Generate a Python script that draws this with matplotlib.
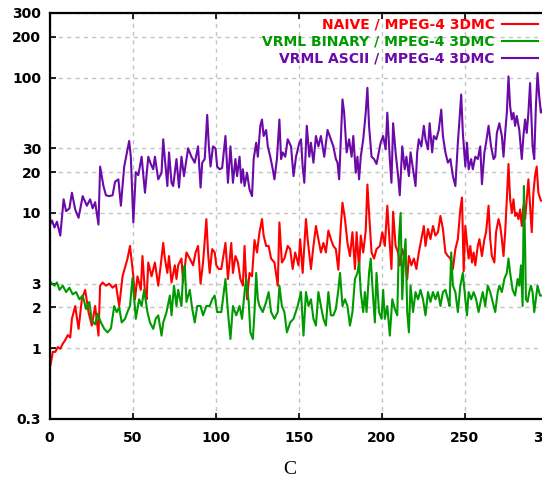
import matplotlib
matplotlib.use("Agg")
import matplotlib.pyplot as plt

# values (x = frame index, y = size ratio)
naive_x = [0, 1, 2, 3.5, 5, 6.5, 8, 9.5, 11, 12.5, 13.5, 15.5, 17.5, 19.5, 21.5, 23.5, 25.5, 27.5, 29.5, 30.5,
           32, 34, 36, 38, 40, 42, 44, 47, 48.5, 50.5, 51.5, 53, 55, 56, 57.5, 58.5, 59.5, 61.5, 63.5, 65.5,
           67, 68.5, 69.5, 71, 72, 73.5, 75.5, 76.5, 77.5, 79.5, 80.5, 82.5, 84.5, 86.5, 88, 89.5, 91, 92.5, 94.5, 95.5,
           96.5, 98, 99.5, 100.5, 102, 103.5, 106, 107.5, 109.5, 110.5, 112, 113.5, 115, 116.5, 117.5, 119, 120.5, 122, 123.5, 125,
           126.5, 128, 129, 130.5, 132, 133.5, 135.5, 137.5, 138.5, 140, 141.5, 143.5, 145, 146.5, 148, 150, 151, 152.5, 154.5, 155.5,
           157.5, 159, 160.5, 162, 163.5, 165, 166.5, 168, 169.5, 171, 172.5, 174, 175.5, 176.5, 178, 179.5, 181, 182.5, 184, 185,
           186.5, 187.5, 189, 190.5, 191.5, 192.5, 194, 195.5, 197, 199, 200.5, 202, 203.5, 204.5, 206, 207, 208.5, 210, 211, 212.5,
           214, 215.5, 216.5, 218, 219.5, 221, 222.5, 224, 225.5, 226.5, 228, 229.5, 231, 232.5, 234, 235.5, 237, 238.5, 240, 241.5,
           243, 244.5, 246, 247.5, 248.5, 249.5, 250.5, 251.5, 252.5, 253.5, 254.5, 255.5, 256.5, 258, 259, 260.5, 262, 263, 264.5, 265.5,
           266.5, 268, 269, 270.5, 271.5, 272.5, 273.5, 274.5, 275.5, 276.5, 277.5, 278.5, 279.5, 280.5, 281.5, 282.5, 283.5, 284.5, 285.5, 286.5,
           287.5, 288.5, 289.5, 290.5, 291.5, 292.5, 293.5, 294.5, 296, 297]
naive_y = [0.70, 0.80, 0.94, 0.94, 1.02, 0.99, 1.08, 1.15, 1.25, 1.2, 1.65, 2.05, 1.39, 2.3, 2.7, 1.85, 1.47, 2.05, 1.24, 2.9,
           3.06, 2.9, 3.0, 2.8, 2.95, 2.05, 3.4, 4.6, 5.7, 3.4, 2.3, 3.4, 2.7, 4.8, 2.6, 2.3, 4.3, 3.4, 4.3, 2.9,
           4.1, 6.0, 4.6, 3.6, 4.8, 3.06, 4.1, 3.25, 4.1, 4.6, 3.06, 5.1, 4.6, 4.1, 5.1, 5.7, 3.0, 4.3, 9.0, 5.1,
           3.6, 5.4, 5.1, 4.1, 3.85, 3.85, 6.0, 3.25, 6.0, 3.6, 4.8, 4.3, 3.25, 2.9, 5.7, 2.3, 3.6, 3.4, 6.3, 5.1,
           7.2, 9.0, 6.8, 5.7, 5.7, 4.6, 4.3, 2.9, 8.5, 4.3, 4.6, 5.7, 5.4, 3.85, 5.1, 4.1, 6.4, 3.6, 9.0, 6.4,
           3.85, 5.7, 8.0, 6.4, 5.1, 6.0, 5.1, 7.4, 6.4, 5.7, 5.4, 3.8, 8.0, 11.9, 9.0, 6.0, 4.8, 7.2, 3.85, 7.2,
           3.85, 6.8, 5.1, 7.4, 16.2, 10.0, 5.1, 4.6, 5.4, 5.7, 7.2, 5.7, 11.3, 7.2, 3.85, 10.2, 5.7, 5.1, 4.1, 5.4,
           4.6, 3.25, 4.8, 4.1, 4.6, 3.85, 5.1, 6.4, 8.0, 5.7, 7.6, 6.4, 8.0, 6.8, 7.2, 9.5, 7.6, 5.1, 4.8, 4.6,
           3.85, 5.4, 6.4, 10.7, 13.0, 3.7, 8.0, 6.0, 4.6, 5.7, 4.3, 5.1, 4.1, 5.7, 6.4, 4.8, 6.4, 7.2, 11.3, 6.4,
           4.8, 4.3, 7.2, 9.0, 8.0, 6.4, 4.8, 7.2, 12.6, 23, 12.6, 10.0, 12.6, 9.5, 10.0, 9.0, 10.6, 8.0, 11.3, 9.0,
           12.6, 17.7, 11.3, 7.2, 14.1, 18.7, 22, 14.1, 12.3, 12.3]

binary_x = [0, 1.5, 3, 4.5, 6, 8, 10, 12, 14, 16, 18, 20, 22, 24, 25.5, 27.5, 29, 31, 33, 35,
            37, 39, 40.5, 42, 43.5, 45.5, 47.3, 48.5, 50, 52, 54, 55.5, 57, 59, 60.5, 62.5, 64, 65.5, 67.5, 68.5,
            70.5, 72.5, 73.5, 75, 76.5, 77.5, 79.5, 80.5, 81.5, 82.5, 84.5, 86, 87.5, 89, 91, 92.5, 94.5, 96.5, 98, 99.5,
            101, 103.5, 105, 106, 107.5, 109, 110.5, 112.5, 114.5, 116, 117.5, 118.5, 120, 121, 122.5, 123.5, 124.5, 125.5, 126.5, 128.5,
            130.5, 132, 133.5, 135.5, 137.5, 138.5, 140, 141.5, 143, 145, 147, 149.5, 151.5, 153, 154.5, 156, 157.5, 159, 160.5, 162,
            163.5, 165, 166.5, 168, 169.5, 171, 172.5, 174, 175, 176.5, 178, 179.5, 181, 182.5, 184, 185.5, 186.5, 187.5, 189, 190,
            191, 192.5, 193.5, 194.5, 196, 197, 198.5, 200, 201, 202, 203.5, 205, 206.5, 208, 209.5, 210.5, 211.5, 212.5, 213.5, 214.5,
            215.5, 216.5, 217.5, 219, 220.5, 222, 223.5, 225, 226.5, 228, 229.5, 231, 232.5, 234, 235.5, 237, 238.5, 240, 241, 242,
            243, 244.5, 246, 247.5, 249, 250.5, 251.5, 252.5, 254, 255.5, 257, 258.5, 260, 261, 262.5, 264, 265.5, 267, 268.5, 270,
            271, 272.5, 274, 275.5, 276.5, 277.5, 279, 280.5, 282, 283, 284, 285, 285.8, 286.5, 287, 288, 289, 290, 291, 292,
            293, 294, 295.5, 297]
binary_y = [3.16, 3.0, 2.9, 3.06, 2.7, 2.9, 2.6, 2.8, 2.5, 2.6, 2.3, 2.45, 1.95, 2.2, 1.6, 1.5, 1.8, 1.55, 1.39, 1.31,
            1.4, 2.05, 1.85, 2.0, 1.55, 1.65, 1.9, 2.05, 3.3, 1.65, 2.3, 2.05, 2.7, 1.85, 1.55, 1.39, 1.65, 1.75, 1.24, 1.55,
            1.85, 2.45, 1.75, 2.9, 2.05, 2.7, 2.05, 3.6, 4.1, 2.2, 2.7, 1.95, 1.55, 2.05, 2.05, 1.75, 2.05, 2.05, 2.3, 2.45,
            1.85, 1.85, 2.6, 3.25, 1.85, 1.17, 2.05, 1.75, 2.05, 1.65, 2.6, 3.25, 2.2, 1.31, 1.17, 1.85, 3.6, 2.3, 2.05, 1.85,
            2.2, 2.6, 1.85, 1.65, 1.85, 2.9, 2.05, 1.85, 1.31, 1.55, 1.65, 2.05, 2.6, 1.24, 2.6, 2.05, 2.3, 1.65, 1.47, 2.6,
            2.05, 1.65, 1.47, 2.6, 1.75, 1.75, 1.95, 2.7, 3.6, 2.05, 2.3, 2.05, 1.47, 1.85, 3.25, 3.6, 4.3, 2.6, 1.85, 2.6,
            1.85, 3.6, 4.6, 2.9, 1.55, 3.6, 1.85, 1.65, 2.7, 1.65, 2.05, 1.24, 2.3, 1.95, 1.75, 6.4, 10.0, 2.3, 4.6, 6.4,
            1.85, 1.31, 2.9, 1.85, 2.6, 2.3, 2.7, 2.3, 1.75, 2.6, 2.2, 2.6, 2.3, 2.6, 2.05, 2.6, 2.7, 2.3, 2.05, 5.1,
            2.9, 2.6, 1.85, 2.9, 3.6, 2.3, 1.75, 2.6, 2.3, 2.6, 2.3, 1.85, 2.3, 2.6, 2.05, 2.9, 2.6, 2.2, 1.85, 2.6,
            2.9, 2.6, 3.25, 3.6, 4.6, 3.6, 2.7, 2.45, 3.25, 2.9, 4.1, 2.05, 15.8, 5.7, 2.3, 2.2, 2.6, 2.9, 2.6, 1.85,
            2.3, 2.9, 2.45, 2.45]

ascii_x = [0, 1.5, 3, 4.5, 6.5, 8.5, 10, 12, 13.5, 15.5, 17.5, 20, 22.5, 24.5, 26, 27.5, 29.5, 30.5, 32.5, 34,
           36, 38, 39.5, 41.5, 43, 45, 48, 49, 50.5, 52, 53.5, 55.5, 57.5, 59.5, 61, 62.5, 63.5, 65.5, 67.5, 68.5,
           69.5, 71, 72, 73.5, 74.5, 76.5, 78, 79.5, 81, 83.5, 85.5, 87.5, 89.5, 91, 92, 93.5, 95, 96, 97, 98.5,
           100, 101, 102.5, 104, 106, 107.5, 109, 110.5, 112, 113, 114.5, 115.5, 116.5, 117.5, 119, 120.5, 122, 123, 124.5, 125.5,
           127, 128, 129, 130.5, 131.5, 133, 134.5, 135.5, 137, 138.5, 139.5, 140.5, 142, 143.5, 145.5, 147, 148.5, 150.5, 151.5, 152.5,
           153.5, 155, 156.5, 157.5, 159, 160.5, 162, 163.5, 165.5, 167.5, 169.5, 171, 172.5, 173.5, 174.5, 175.5, 176.5, 177.5, 179, 180.5,
           182, 183, 184.5, 185.5, 186.5, 187.5, 189, 190.5, 191.5, 192.5, 194, 195.5, 197, 199.5, 201, 202.5, 203.5, 205, 206, 207,
           208.5, 210, 211, 212.5, 214, 215, 216.5, 217.5, 219, 220.5, 221.5, 222.5, 224, 225.5, 226.5, 228, 229, 230.5, 231.5, 233,
           234.5, 236, 237, 238.5, 240, 241.5, 243, 244.5, 246, 247, 248, 249, 250.5, 251.5, 252.5, 254, 255, 256.5, 258, 259.5,
           260.5, 262, 263, 264.5, 266, 267.5, 268.5, 269.5, 271, 272.5, 273.5, 274.5, 275.5, 276.5, 277.5, 278.5, 279.5, 280.5, 281.5, 283,
           284.5, 285.5, 286.5, 287.5, 288.5, 289.5, 290.5, 291, 292, 293, 294, 295, 296, 297]
ascii_y = [8.0, 8.8, 7.8, 8.6, 6.8, 12.6, 10.3, 10.8, 14.1, 10.6, 9.2, 13.3, 11.3, 12.6, 10.8, 12, 8.2, 22, 15.8, 13.5,
           13.3, 13.5, 17, 17.7, 11.3, 22, 34, 26, 8.5, 20, 19, 26, 14.1, 26, 23, 21, 26, 17.7, 19.8, 35,
           25, 15.8, 28, 16.7, 15.8, 25, 15.4, 26, 18.7, 30, 26, 23.5, 31, 15.4, 23.5, 25, 53, 31, 22, 31,
           30, 22, 21, 21.5, 37, 16.7, 31, 16.7, 25, 18.7, 26, 16.7, 21, 15.8, 19.8, 14.9, 13.3, 25, 33, 26,
           44, 49, 37, 41, 31, 26, 21, 17.7, 25, 49, 25, 28, 26, 35, 31, 18.7, 26, 33, 35, 22,
           16.7, 44, 26, 33, 23.5, 37, 31, 37, 26, 41, 35, 31, 25, 23.5, 17.7, 35, 69, 55, 28, 35,
           26, 37, 19.8, 26, 17.7, 26, 35, 55, 84, 44, 26, 25, 23, 33, 37, 29.5, 55, 25, 16.7, 46,
           28, 18.7, 13.5, 31, 21, 26, 18.7, 28, 21, 15.8, 28, 35, 31, 44, 35, 29.5, 46, 28, 37, 35,
           41, 58, 37, 28, 23.5, 25, 18.7, 15.8, 33, 49, 75, 39, 22, 33, 21, 25, 21, 26, 25, 31,
           16.3, 28, 33, 44, 31, 25, 26, 39, 46, 37, 26, 39, 55, 102, 61, 49, 55, 44, 52, 41,
           25, 37, 49, 39, 55, 91, 44, 31, 25, 61, 108, 73, 55, 58]

labels = ["NAIVE / MPEG-4 3DMC", "VRML BINARY / MPEG-4 3DMC", "VRML ASCII / MPEG-4 3DMC"]
colors = ["#ff0000", "#009a00", "#6a0aa8"]

yticks = [0.3, 1, 2, 3, 10, 20, 30, 100, 200, 300]
ytick_labels = ["0.3", "1", "2", "3", "10", "20", "30", "100", "200", "300"]
xticks = [0, 50, 100, 150, 200, 250, 300]

fig = plt.figure(figsize=(5.42, 4.80), dpi=100)
ax = fig.add_axes([49.5 / 542, 61 / 480, 498 / 542, 406 / 480])

ax.plot(naive_x, naive_y, color=colors[0], lw=1.5, label=labels[0])
ax.plot(binary_x, binary_y, color=colors[1], lw=1.5, label=labels[1])
ax.plot(ascii_x, ascii_y, color=colors[2], lw=1.5, label=labels[2])

ax.set_yscale("log")
ax.set_xlim(0, 300)
ax.set_ylim(0.3, 300)
ax.set_yticks(yticks)
ax.set_yticklabels(ytick_labels)
ax.yaxis.set_minor_locator(matplotlib.ticker.NullLocator())
ax.set_xticks(xticks)

ax.grid(True, color="#c4c4c4", linestyle=(0, (3, 3)), lw=1)
ax.set_axisbelow(True)
for s in ax.spines.values():
    s.set_linewidth(1.6)
ax.tick_params(direction="in", length=4, width=1.2, top=True, right=False)
ax.tick_params(axis="y", pad=6)
ax.tick_params(axis="x", pad=9)
for t in ax.get_xticklabels() + ax.get_yticklabels():
    t.set_fontweight("bold")
    t.set_fontsize(10)

ax.legend(loc="upper right", bbox_to_anchor=(538 / 542, 1 - 18 / 480), bbox_transform=fig.transFigure,
          frameon=False, markerfirst=False, handlelength=2.6, handletextpad=0.5, labelspacing=0.2,
          borderpad=0, borderaxespad=0, labelcolor="linecolor",
          prop={"weight": "bold", "size": 10})

fig.text(290 / 542, 1 - 470 / 480, "C", ha="center", va="center",
         family="Liberation Serif", fontsize=14)

fig.savefig("out.png", dpi=100)
